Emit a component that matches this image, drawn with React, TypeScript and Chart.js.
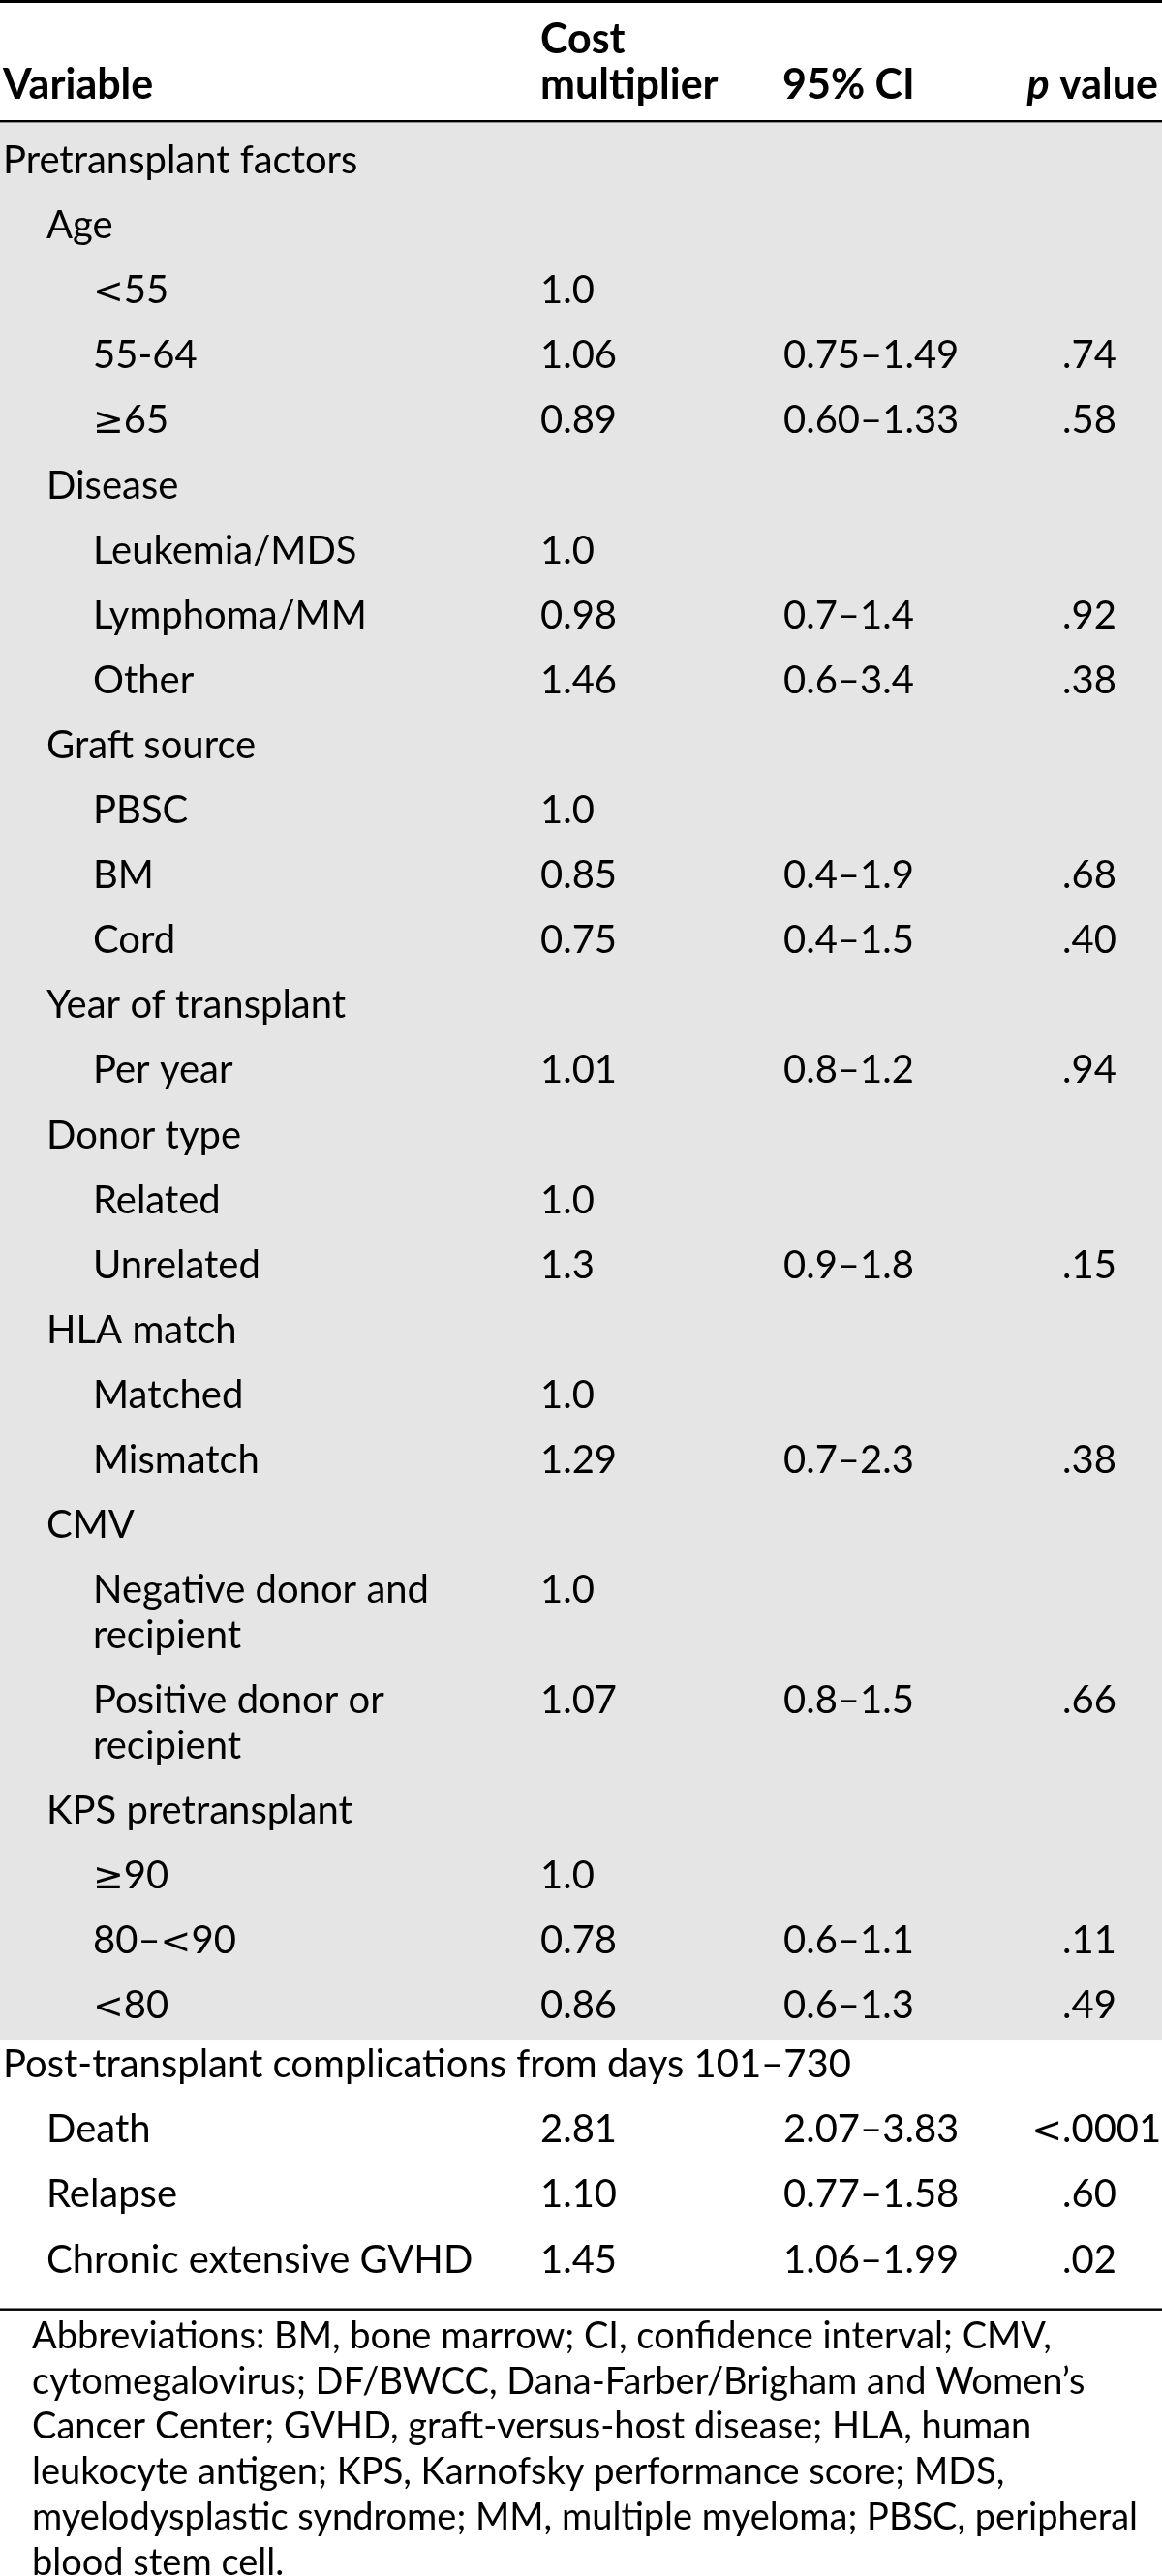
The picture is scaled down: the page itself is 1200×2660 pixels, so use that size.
import React, { useEffect, useRef } from "react";
import { Chart, registerables } from "chart.js";

Chart.register(...registerables);

// ---------------- data ----------------
const headerLine1 = ["", "Cost", "", ""];
const headerLine2 = ["Variable", "multiplier", "95% CI", "value"];
const headerItalicPrefix = ["", "", "", "p"];

const rowLabels = [
  "Pretransplant factors",
  "Age",
  "<55",
  "55-64",
  "≥65",
  "Disease",
  "Leukemia/MDS",
  "Lymphoma/MM",
  "Other",
  "Graft source",
  "PBSC",
  "BM",
  "Cord",
  "Year of transplant",
  "Per year",
  "Donor type",
  "Related",
  "Unrelated",
  "HLA match",
  "Matched",
  "Mismatch",
  "CMV",
  "Negative donor and\nrecipient",
  "Positive donor or\nrecipient",
  "KPS pretransplant",
  "≥90",
  "80–<90",
  "<80",
  "Post-transplant complications from days 101–730",
  "Death",
  "Relapse",
  "Chronic extensive GVHD",
];

const rowLevels = [0, 1, 2, 2, 2, 1, 2, 2, 2, 1, 2, 2, 2, 1, 2, 1, 2, 2, 1, 2, 2, 1, 2, 2, 1, 2, 2, 2, 0, 1, 1, 1];
const rowSection = [0, 0, 0, 0, 0, 0, 0, 0, 0, 0, 0, 0, 0, 0, 0, 0, 0, 0, 0, 0, 0, 0, 0, 0, 0, 0, 0, 0, 1, 1, 1, 1];

const costMultiplier = [
  "", "", "1.0", "1.06", "0.89", "", "1.0", "0.98", "1.46", "", "1.0", "0.85", "0.75", "", "1.01", "",
  "1.0", "1.3", "", "1.0", "1.29", "", "1.0", "1.07", "", "1.0", "0.78", "0.86", "", "2.81", "1.10", "1.45",
];

const confidenceInterval = [
  "", "", "", "0.75–1.49", "0.60–1.33", "", "", "0.7–1.4", "0.6–3.4", "", "", "0.4–1.9", "0.4–1.5", "", "0.8–1.2", "",
  "", "0.9–1.8", "", "", "0.7–2.3", "", "", "0.8–1.5", "", "", "0.6–1.1", "0.6–1.3", "", "2.07–3.83", "0.77–1.58", "1.06–1.99",
];

const pValues = [
  "", "", "", ".74", ".58", "", "", ".92", ".38", "", "", ".68", ".40", "", ".94", "",
  "", ".15", "", "", ".38", "", "", ".66", "", "", ".11", ".49", "", "<.0001", ".60", ".02",
];

const footnoteLines = [
  "Abbreviations: BM, bone marrow; CI, confidence interval; CMV,",
  "cytomegalovirus; DF/BWCC, Dana-Farber/Brigham and Women’s",
  "Cancer Center; GVHD, graft-versus-host disease; HLA, human",
  "leukocyte antigen; KPS, Karnofsky performance score; MDS,",
  "myelodysplastic syndrome; MM, multiple myeloma; PBSC, peripheral",
  "blood stem cell.",
];

// ---------------- layout ----------------
const W = 1200;
const H = 2660;
const FONT_FAMILY = 'Lato, "Noto Sans", sans-serif';
const SYMBOL_FAMILY = '"DejaVu Sans", sans-serif';
const FOOT_PX = 38;
const BODY_PX = 40;
const HEAD_PX = 43;
const FIRST_BASELINE = 179;
const ROW_PITCH = 67.1;
const LINE_PITCH = 46.7;
const SECTION_GAP = -6;
const INDENT = [3, 48, 96];
const COST_X = 558;
const CI_X = 809;
const P_DOT_X = 1097;
const HEADER_X = [3, 558, 808, 1196];
const HEADER_BASE1 = 55;
const HEADER_BASE2 = 102;
const TOP_RULE = [0, 3];
const HEADER_RULE = [124, 2.4];
const GRAY_BOTTOM_OFFSET = 23;
const BOTTOM_RULE_OFFSET = 37;
const RULE_THICK = 2.4;
const FOOT_X = 33;
const FOOT_FIRST = 2425;
const FOOT_PITCH = 46.7;
const FOOT_TARGET_WIDTH = 1165;
const GRAY = "#e5e5e5";
const INK = "#000000";

const lineCount = (s: string) => s.split("\n").length;

const baselines: number[] = [];
{
  let y = FIRST_BASELINE;
  rowLabels.forEach((lab, i) => {
    if (i > 0) {
      y += ROW_PITCH + (lineCount(rowLabels[i - 1]) - 1) * LINE_PITCH;
      if (rowSection[i] !== rowSection[i - 1]) y += SECTION_GAP;
    }
    baselines.push(y);
  });
}

function columnDataset(label: string, texts: string[], xFor: (i: number) => number) {
  const data: { x: number; y: number }[] = [];
  const t: string[] = [];
  texts.forEach((s, i) => {
    if (s !== "") {
      data.push({ x: xFor(i), y: baselines[i] });
      t.push(s);
    }
  });
  return {
    label,
    data,
    texts: t,
    pointRadius: 0,
    pointHoverRadius: 0,
    showLine: false,
  } as any;
}

const SYMBOLS = /[<≥]/;

const tablePlugin = {
  id: "tablePlugin",
  beforeDatasetsDraw(chart: any) {
    const ctx = chart.ctx as CanvasRenderingContext2D;
    const xs = chart.scales.x;
    const ys = chart.scales.y;
    const px = (v: number) => xs.getPixelForValue(v);
    const py = (v: number) => ys.getPixelForValue(v);
    ctx.save();
    const lastGray = rowSection.lastIndexOf(0);
    const grayTop = HEADER_RULE[0] + HEADER_RULE[1];
    const grayBottom = baselines[lastGray] + GRAY_BOTTOM_OFFSET;
    ctx.fillStyle = GRAY;
    ctx.fillRect(px(0), py(grayTop), px(W) - px(0), py(grayBottom) - py(grayTop));
    ctx.fillStyle = INK;
    ctx.fillRect(px(0), py(TOP_RULE[0]), px(W) - px(0), py(TOP_RULE[0] + TOP_RULE[1]) - py(TOP_RULE[0]));
    ctx.fillRect(px(0), py(HEADER_RULE[0]), px(W) - px(0), py(HEADER_RULE[0] + HEADER_RULE[1]) - py(HEADER_RULE[0]));
    const br = baselines[baselines.length - 1] + BOTTOM_RULE_OFFSET;
    ctx.fillRect(px(0), py(br), px(W) - px(0), py(br + RULE_THICK) - py(br));
    ctx.restore();
  },
  afterDatasetsDraw(chart: any) {
    const ctx = chart.ctx as CanvasRenderingContext2D;
    const xs = chart.scales.x;
    const ys = chart.scales.y;
    const px = (v: number) => xs.getPixelForValue(v);
    const py = (v: number) => ys.getPixelForValue(v);

    ctx.save();
    ctx.font = `${FOOT_PX}px ${FONT_FAMILY}`;
    const sx = Math.min(1, FOOT_TARGET_WIDTH / ctx.measureText(footnoteLines[4]).width);
    ctx.textBaseline = "alphabetic";
    ctx.fillStyle = INK;

    let curSize = BODY_PX;
    let curStyle = "";
    const setFont = (size: number, style: string) => {
      curSize = size;
      curStyle = style;
    };
    const runs = (s: string) => {
      const out: { t: string; sym: boolean }[] = [];
      for (const ch of s) {
        const sym = SYMBOLS.test(ch);
        if (out.length && out[out.length - 1].sym === sym) out[out.length - 1].t += ch;
        else out.push({ t: ch, sym });
      }
      return out;
    };
    const fontFor = (sym: boolean) =>
      sym ? `${Math.round(curSize * 0.95)}px ${SYMBOL_FAMILY}` : `${curStyle}${curSize}px ${FONT_FAMILY}`;
    const width = (s: string) =>
      runs(s).reduce((acc, r) => {
        ctx.font = fontFor(r.sym);
        return acc + ctx.measureText(r.t).width * sx;
      }, 0);
    const draw = (s: string, x: number, y: number) => {
      let cx = x;
      runs(s).forEach((r) => {
        ctx.font = fontFor(r.sym);
        ctx.save();
        ctx.translate(cx, y);
        ctx.scale(sx, 1);
        ctx.textAlign = "left";
        ctx.fillText(r.t, 0, 0);
        ctx.restore();
        cx += ctx.measureText(r.t).width * sx;
      });
    };

    // header
    setFont(HEAD_PX, "bold ");
    headerLine1.forEach((s, i) => {
      if (s) draw(s, px(HEADER_X[i]), py(HEADER_BASE1));
    });
    headerLine2.forEach((s, i) => {
      const it = headerItalicPrefix[i];
      if (it) {
        setFont(HEAD_PX, "bold ");
        const restW = width(" " + s);
        setFont(HEAD_PX, "italic bold ");
        const itW = width(it);
        const xEnd = px(HEADER_X[i]);
        draw(it, xEnd - restW - itW, py(HEADER_BASE2));
        setFont(HEAD_PX, "bold ");
        draw(" " + s, xEnd - restW, py(HEADER_BASE2));
      } else {
        setFont(HEAD_PX, "bold ");
        draw(s, px(HEADER_X[i]), py(HEADER_BASE2));
      }
    });

    // body cells from dataset elements
    setFont(BODY_PX, "");
    chart.data.datasets.forEach((ds: any, di: number) => {
      const meta = chart.getDatasetMeta(di);
      meta.data.forEach((el: any, j: number) => {
        const text: string = ds.texts[j];
        const lines = text.split("\n");
        lines.forEach((ln, k) => {
          const y = py(ys.getValueForPixel(el.y) + k * LINE_PITCH);
          if (ds.label === "p") {
            const dot = ln.indexOf(".");
            const pre = ln.slice(0, dot);
            const rest = ln.slice(dot);
            if (pre) draw(pre, el.x - width(pre), y);
            draw(rest, el.x, y);
          } else {
            draw(ln, el.x, y);
          }
        });
      });
    });

    // footnote
    setFont(FOOT_PX, "");
    footnoteLines.forEach((ln, k) => {
      draw(ln, px(FOOT_X), py(FOOT_FIRST + k * FOOT_PITCH));
    });
    ctx.restore();
  },
};

export default function App() {
  const canvasRef = useRef<HTMLCanvasElement | null>(null);

  useEffect(() => {
    const canvas = canvasRef.current;
    if (!canvas) return;
    document.body.style.margin = "0";
    const chart = new Chart(canvas, {
      type: "scatter",
      data: {
        datasets: [
          columnDataset("variable", rowLabels, (i) => INDENT[rowLevels[i]]),
          columnDataset("cost", costMultiplier, () => COST_X),
          columnDataset("ci", confidenceInterval, () => CI_X),
          columnDataset("p", pValues, () => P_DOT_X),
        ],
      },
      options: {
        responsive: false,
        animation: false,
        events: [],
        layout: { padding: 0 },
        plugins: {
          legend: { display: false },
          tooltip: { enabled: false },
        },
        scales: {
          x: { type: "linear", display: false, min: 0, max: W },
          y: { type: "linear", display: false, min: 0, max: H, reverse: true },
        },
      },
      plugins: [tablePlugin],
    } as any);
    let alive = true;
    if ((document as any).fonts && (document as any).fonts.ready) {
      (document as any).fonts.ready.then(() => {
        if (alive) chart.draw();
      });
    }
    return () => {
      alive = false;
      chart.destroy();
    };
  }, []);

  return (
    <div style={{ position: "absolute", left: 0, top: 0, width: W, height: H, background: "#ffffff" }}>
      <canvas ref={canvasRef} width={W} height={H} style={{ display: "block", width: W, height: H }} />
    </div>
  );
}
